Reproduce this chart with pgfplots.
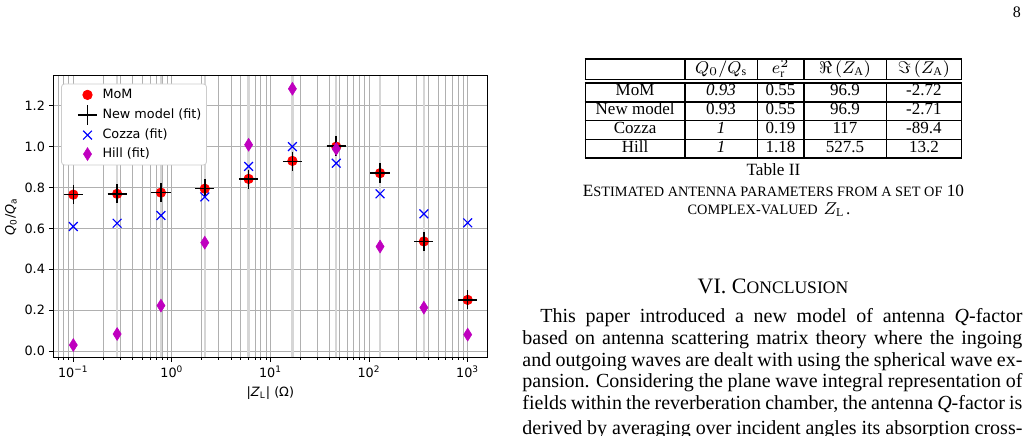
\documentclass[border=0pt]{standalone}
\usepackage{fix-cm}
\usepackage{fontspec}
\setmainfont{Liberation Serif}
\newfontfamily\dejavu{DejaVu Sans}
\usepackage{array}
\usepackage{pgfplots}
\pgfplotsset{compat=1.18}
\newcolumntype{C}[1]{>{\centering\arraybackslash}p{#1}}
\definecolor{gridgray}{RGB}{176,176,176}
\definecolor{datagrid}{RGB}{214,214,214}
\definecolor{mplmag}{rgb}{0.75,0,0.75}
\newcommand\chartfont{\dejavu\fontsize{6.4}{7.7}\selectfont}
\newcommand\sm[1]{{\fontsize{7.15}{8}\selectfont #1}}
\newcommand\smh[1]{{\fontsize{8.8}{10}\selectfont #1}}
\pgfdeclareplotmark{thindiamond*}{%
  \pgfpathmoveto{\pgfqpoint{0pt}{\pgfplotmarksize}}%
  \pgfpathlineto{\pgfqpoint{0.63\pgfplotmarksize}{0pt}}%
  \pgfpathlineto{\pgfqpoint{0pt}{-\pgfplotmarksize}}%
  \pgfpathlineto{\pgfqpoint{-0.63\pgfplotmarksize}{0pt}}%
  \pgfpathclose
  \pgfusepathqfillstroke}
\begin{document}
\begin{tikzpicture}[x=0.5pt,y=0.5pt]
\useasboundingbox (0,0) rectangle (1032,435);
\clip (0,0) rectangle (1032,435);
\begin{axis}[
  at={(26.65pt,38.85pt)}, anchor=south west,
  width=217pt, height=140.8pt, scale only axis,
  xmin=-1.203, xmax=3.199, ymin=-0.031, ymax=1.347,
  xtick={-1,0,1,2,3},
  xticklabels={10\textsuperscript{−1},10\textsuperscript{0},10\textsuperscript{1},10\textsuperscript{2},10\textsuperscript{3}},
  minor xtick={-1.1549,-1.0969,-1.0458,
    -0.6990,-0.5229,-0.3979,-0.3010,-0.2218,-0.1549,-0.0969,-0.0458,
    0.3010,0.4771,0.6021,0.6990,0.7782,0.8451,0.9031,0.9542,
    1.3010,1.4771,1.6021,1.6990,1.7782,1.8451,1.9031,1.9542,
    2.3010,2.4771,2.6021,2.6990,2.7782,2.8451,2.9031,2.9542},
  ytick={0,0.2,0.4,0.6,0.8,1.0,1.2},
  yticklabels={0.0,0.2,0.4,0.6,0.8,1.0,1.2},
  extra x ticks={-0.5556,-0.1111,0.3333,0.7778,1.2222,1.6667,2.1111,2.5556},
  extra x tick labels={},
  extra x tick style={major tick length=0pt, major grid style={datagrid, line width=1.1pt}},
  tick pos=left, tick align=outside,
  major tick length=2.2pt, minor tick length=1.3pt,
  every tick/.style={black, line width=0.45pt},
  xmajorgrids, xminorgrids, ymajorgrids,
  major grid style={gridgray, line width=0.45pt},
  minor grid style={gridgray, line width=0.45pt},
  axis line style={line width=0.6pt},
  tick label style={font=\chartfont},
  xticklabel style={inner sep=1.8pt},
  yticklabel style={inner sep=1.8pt},
  label style={font=\chartfont},
  xlabel={|\textit{Z}\textsubscript{L}| (Ω)},
  xlabel style={yshift=3pt},
  ylabel={\textit{Q}\textsubscript{0}/\textit{Q}\textsubscript{a}},
  ylabel style={yshift=-1.5pt},
  legend style={at={(0.018,0.972)}, anchor=north west, draw=black!20,
    fill=white, rounded corners=1.5pt, font=\chartfont,
    inner xsep=1.5pt, inner ysep=1.2pt, row sep=1pt,
    nodes={inner sep=1pt, text height=5pt, text depth=1.5pt}},
  legend cell align=left,
  legend image code/.code={\path[draw=none] (0pt,0pt) (18pt,0pt);
     \draw[#1, only marks] plot coordinates {(11.5pt,0pt)};},
]
\addplot[only marks, mark=*, mark size=2.35pt, red, mark options={fill=red, draw=red}]
  coordinates {(-1,0.765) (-0.5556,0.769) (-0.1111,0.775) (0.3333,0.794) (0.7778,0.842)
               (1.2222,0.930) (1.6667,1.000) (2.1111,0.870) (2.5556,0.536) (3,0.250)};
\addlegendentry{MoM}
\addplot[only marks, mark=+, mark size=4.8pt, black, line width=0.75pt]
  coordinates {(-1,0.765) (-0.5556,0.769) (-0.1111,0.776) (0.3333,0.795) (0.7778,0.841)
               (1.2222,0.928) (1.6667,1.003) (2.1111,0.871) (2.5556,0.536) (3,0.250)};
\addlegendentry{New model (fit)}
\addplot[only marks, mark=x, mark size=3.1pt, blue, line width=0.6pt]
  coordinates {(-1,0.609) (-0.5556,0.625) (-0.1111,0.663) (0.3333,0.754) (0.7778,0.903)
               (1.2222,1.000) (1.6667,0.919) (2.1111,0.769) (2.5556,0.671) (3,0.627)};
\addlegendentry{Cozza (fit)}
\addplot[only marks, mark=thindiamond*, mark size=3.2pt, mplmag, line width=0.3pt, mark options={fill=mplmag}]
  coordinates {(-1,0.029) (-0.5556,0.083) (-0.1111,0.222) (0.3333,0.530) (0.7778,1.009)
               (1.2222,1.283) (1.6667,0.989) (2.1111,0.511) (2.5556,0.212) (3,0.080)};
\addlegendentry{Hill (fit)}
\end{axis}
% page number
\node[font=\fontsize{8}{9}\selectfont] at (1016.8,422.5) {8};
% table
\node[anchor=north, inner sep=0pt, font=\fontsize{8.5}{9.4}\selectfont] at (773.5,377) {%
\setlength{\tabcolsep}{0pt}\setlength{\arrayrulewidth}{0.8pt}\setlength{\doublerulesep}{0.9pt}%
\renewcommand{\arraystretch}{0.915}%
\begin{tabular}{|C{48.8pt}|C{35.6pt}|C{22.3pt}|C{40.5pt}|C{36.8pt}|}
\hline
 & $Q_0/Q_\mathrm{s}$ & $e_\mathrm{r}^2$ & $\Re\,(Z_\mathrm{A})$ & $\Im\,(Z_\mathrm{A})$\rule[-2.5pt]{0pt}{7.2pt}\\
\hline\hline
MoM & \textit{0.93} & 0.55 & 96.9 & -2.72\\ \hline
New model & 0.93 & 0.55 & 96.9 & -2.71\\ \hline
Cozza & \textit{1} & 0.19 & 117 & -89.4\\ \hline
Hill & \textit{1} & 1.18 & 527.5 & 13.2\\ \hline
\end{tabular}};
\node[font=\fontsize{8.6}{9.4}\selectfont] at (773.5,265) {Table II};
\node[font=\fontsize{8.6}{9.4}\selectfont] at (773.5,244.3) {E\sm{STIMATED ANTENNA PARAMETERS FROM A SET OF} 10};
\node[font=\fontsize{8.6}{9.4}\selectfont] at (769,225) {\sm{COMPLEX-VALUED}\hspace{3pt}$Z_\mathrm{L}$\hspace{0.8pt}.};
% heading
\node[font=\fontsize{11}{12}\selectfont, anchor=base] at (773,141.7) {VI.\ C\smh{ONCLUSION}};
% body text
\node[anchor=base west, inner sep=0pt, text width=250pt, align=justify,
      font=\fontsize{10}{10.83}\selectfont] at (522,112.3) {%
\setlength{\parindent}{9pt}\indent This paper introduced a new model of antenna \textit{Q}-factor\linebreak
based on antenna scattering matrix theory where the ingoing\linebreak
and outgoing waves are dealt with using the spherical wave ex-\linebreak
pansion. Considering the plane wave integral representation of\linebreak
fields within the reverberation chamber, the antenna \textit{Q}-factor is\vadjust{\vskip 1.5pt}\linebreak
derived by averaging over incident angles its absorption cross-\linebreak
section.};
\end{tikzpicture}
\end{document}
